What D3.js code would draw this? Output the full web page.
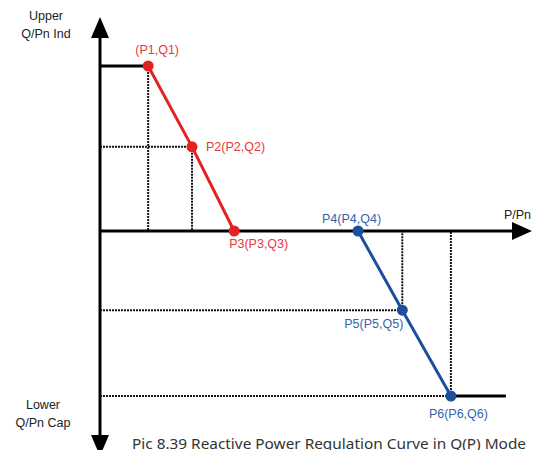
<!DOCTYPE html>
<html><head><meta charset="utf-8">
<script src="https://cdn.jsdelivr.net/npm/d3@7"></script>
<style>html,body{margin:0;padding:0;background:#fff;overflow:hidden}</style>
</head><body>
<svg id="chart" width="534" height="450"></svg>
<script>
// Data (P/Pn, Q/Pn)
const redPoints = [
  {name: "(P1,Q1)", p: 0.112, q: 1.0},
  {name: "P2(P2,Q2)", p: 0.214, q: 0.51},
  {name: "P3(P3,Q3)", p: 0.312, q: 0.0}
];
const bluePoints = [
  {name: "P4(P4,Q4)", p: 0.600, q: 0.0},
  {name: "P5(P5,Q5)", p: 0.703, q: -0.48},
  {name: "P6(P6,Q6)", p: 0.816, q: -1.0}
];
const upperLimit = {pStart: 0.0, q: 1.0};
const lowerLimit = {pEnd: 0.944, q: -1.0};
const axisLabels = {x: "P/Pn", yTop: ["Upper", "Q/Pn Ind"], yBottom: ["Lower", "Q/Pn Cap"]};
const caption = "Pic 8.39 Reactive Power Regulation Curve in Q(P) Mode";

const svg = d3.select("#chart");
const x = d3.scaleLinear().domain([0, 1]).range([100, 530]);
const y = d3.scaleLinear().domain([-1, 1]).range([396, 66]);

const red = "#e3231f", blue = "#1d4f9f";
const redText = "#e5393a", blueText = "#3563ae";

// dotted guides
const guides = [];
[...redPoints.slice(0, 2), ...bluePoints.slice(1)].forEach(d => {
  guides.push([[x(d.p), y(d.q)], [x(d.p), y(0)]]);
  if (d.q !== upperLimit.q) guides.push([[x(0), y(d.q)], [x(d.p), y(d.q)]]);
});
svg.append("g").selectAll("line").data(guides).join("line")
  .attr("x1", d => d[0][0]).attr("y1", d => d[0][1])
  .attr("x2", d => d[1][0]).attr("y2", d => d[1][1])
  .attr("stroke", "#1a1210").attr("stroke-width", 2).attr("stroke-dasharray", "2,1");

// axes
const y0 = y(0), xAxisX = x(0);
svg.append("line").attr("x1", xAxisX).attr("x2", 513).attr("y1", y0).attr("y2", y0)
  .attr("stroke", "#000").attr("stroke-width", 3);
svg.append("line").attr("x1", xAxisX).attr("x2", xAxisX).attr("y1", 37).attr("y2", 436)
  .attr("stroke", "#000").attr("stroke-width", 3);
svg.append("path").attr("d", `M${xAxisX - 9},38 L${xAxisX},17 L${xAxisX + 9},38 Z`).attr("fill", "#000");
svg.append("path").attr("d", `M${xAxisX - 9},435 L${xAxisX},456 L${xAxisX + 9},435 Z`).attr("fill", "#000");
svg.append("path").attr("d", `M512,${y0 - 9} L532,${y0} L512,${y0 + 9} Z`).attr("fill", "#000");

// limit lines
svg.append("line").attr("x1", x(upperLimit.pStart)).attr("x2", x(redPoints[0].p))
  .attr("y1", y(upperLimit.q)).attr("y2", y(upperLimit.q)).attr("stroke", "#000").attr("stroke-width", 3);
svg.append("line").attr("x1", x(bluePoints[2].p)).attr("x2", x(lowerLimit.pEnd))
  .attr("y1", y(lowerLimit.q)).attr("y2", y(lowerLimit.q)).attr("stroke", "#000").attr("stroke-width", 3);

const line = d3.line().x(d => x(d.p)).y(d => y(d.q));
svg.append("path").datum(redPoints).attr("d", line).attr("fill", "none").attr("stroke", red).attr("stroke-width", 3);
svg.append("path").datum(bluePoints).attr("d", line).attr("fill", "none").attr("stroke", blue).attr("stroke-width", 3);

svg.append("g").selectAll("circle").data(redPoints).join("circle")
  .attr("cx", d => x(d.p)).attr("cy", d => y(d.q)).attr("r", 5.5).attr("fill", red);
svg.append("g").selectAll("circle").data(bluePoints).join("circle")
  .attr("cx", d => x(d.p)).attr("cy", d => y(d.q)).attr("r", 5.5).attr("fill", blue);

const font = "'Liberation Sans', Arial, sans-serif";
const fs = 12.5;
const redOff = [[9, -12, "middle"], [14, 4, "start"], [-5, 17, "start"]];
const blueOff = [[-36, -8, "start"], [-58, 18, "start"], [-22, 22, "start"]];
svg.append("g").selectAll("text").data(redPoints).join("text")
  .attr("x", (d, i) => x(d.p) + redOff[i][0]).attr("y", (d, i) => y(d.q) + redOff[i][1])
  .attr("text-anchor", (d, i) => redOff[i][2])
  .attr("font-family", font).attr("font-size", fs).attr("fill", redText).text(d => d.name);
svg.append("g").selectAll("text").data(bluePoints).join("text")
  .attr("x", (d, i) => x(d.p) + blueOff[i][0]).attr("y", (d, i) => y(d.q) + blueOff[i][1])
  .attr("text-anchor", (d, i) => blueOff[i][2])
  .attr("font-family", font).attr("font-size", fs).attr("fill", blueText).text(d => d.name);

// axis labels
svg.append("text").attr("x", 531).attr("y", 219).attr("text-anchor", "end")
  .attr("font-family", font).attr("font-size", fs).attr("fill", "#222").text(axisLabels.x);
axisLabels.yTop.forEach((t, i) => svg.append("text").attr("x", 46).attr("y", 20 + i * 18)
  .attr("text-anchor", "middle").attr("font-family", font).attr("font-size", fs).attr("fill", "#222").text(t));
axisLabels.yBottom.forEach((t, i) => svg.append("text").attr("x", 43).attr("y", 409 + i * 18)
  .attr("text-anchor", "middle").attr("font-family", font).attr("font-size", fs).attr("fill", "#222").text(t));

svg.append("text").attr("x", 132).attr("y", 448.5).attr("font-family", "'Noto Sans', 'Open Sans', sans-serif")
  .attr("font-size", 15).attr("fill", "#333").attr("textLength", 394).attr("lengthAdjust", "spacingAndGlyphs").text(caption);
</script>
</body></html>
